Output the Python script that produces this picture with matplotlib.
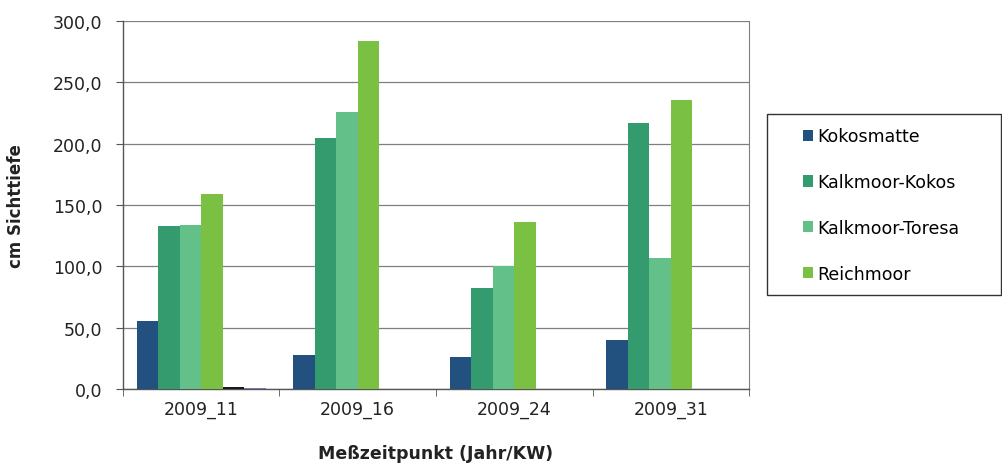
import numpy as np
import matplotlib.pyplot as plt
from matplotlib.patches import Rectangle
from matplotlib.ticker import FuncFormatter, FixedLocator

plt.rcParams['font.family'] = ['DejaVu Sans']

categories = ['2009_11', '2009_16', '2009_24', '2009_31']
kokosmatte = [55.4, 27.7, 26.0, 40.0]
kalkmoor_kokos = [132.9, 204.6, 82.3, 216.8]
kalkmoor_toresa = [133.7, 225.8, 100.3, 106.8]
reichmoor = [159.0, 283.7, 136.0, 235.6]
extra_1 = [1.5, 0, 0, 0]
extra_2 = [1.0, 0, 0, 0]

series = [
    ('Kokosmatte', kokosmatte, '#22507f'),
    ('Kalkmoor-Kokos', kalkmoor_kokos, '#339b6e'),
    ('Kalkmoor-Toresa', kalkmoor_toresa, '#62c088'),
    ('Reichmoor', reichmoor, '#7ac143'),
    ('_extra1', extra_1, '#1a1a1a'),
    ('_extra2', extra_2, '#8b6fb0'),
]

fig = plt.figure(figsize=(10.03, 4.64), dpi=100)
ax = fig.add_axes([0.1226, 0.1595, 0.6242, 0.7931])

x = np.arange(len(categories))
n = len(series)
w = 1 / (n + 1.28)
for i, (name, vals, col) in enumerate(series):
    ax.bar(x - 0.5 + (1.28 / 2) * w + (i + 0.5) * w, vals, width=w, color=col,
           label=name, zorder=3)

ax.set_xlim(-0.5, len(categories) - 0.5)
ax.set_ylim(0, 300)
ax.set_yticks(np.arange(0, 301, 50))
ax.yaxis.set_major_formatter(FuncFormatter(lambda v, p: f'{v:.1f}'.replace('.', ',')))
ax.set_xticks(x)
ax.set_xticklabels(categories)
ax.xaxis.set_minor_locator(FixedLocator(np.arange(-0.5, len(categories), 1)))
ax.tick_params(axis='x', which='major', length=0, labelsize=12.5, pad=8,
               labelcolor='#222222')
ax.tick_params(axis='x', which='minor', length=5, color='#555555', direction='out')
ax.tick_params(axis='y', length=5, color='#555555', labelsize=12.5, direction='out',
               pad=10, labelcolor='#222222')

ax.grid(axis='y', color='#7f7f7f', linewidth=0.9, zorder=0)
for s in ['left', 'bottom']:
    ax.spines[s].set_color('#555555')
    ax.spines[s].set_linewidth(1)
ax.spines['right'].set_color('#7f7f7f')
ax.spines['top'].set_visible(False)

ax.set_ylabel('cm Sichttiefe', fontsize=12, fontweight='bold', labelpad=20,
              color='#222222')
ax.set_xlabel('Meßzeitpunkt (Jahr/KW)', fontsize=12.5, fontweight='bold',
              labelpad=19, color='#222222')

# legend frame drawn separately so the entries can sit well inside it
fig.patches.append(Rectangle((767 / 1003, 1 - 296 / 464), 234 / 1003, 181 / 464,
                             transform=fig.transFigure, fill=False,
                             edgecolor='#333333', linewidth=1))
handles, labels = ax.get_legend_handles_labels()
leg = fig.legend(handles[:4], labels[:4], loc='center left',
                 bbox_to_anchor=(803 / 1003, 1 - 206 / 464),
                 fontsize=12.5, frameon=False,
                 handlelength=0.6, handleheight=0.6,
                 handletextpad=0.2, labelspacing=1.6, borderpad=0,
                 borderaxespad=0)

fig.savefig('out.png', dpi=100)
